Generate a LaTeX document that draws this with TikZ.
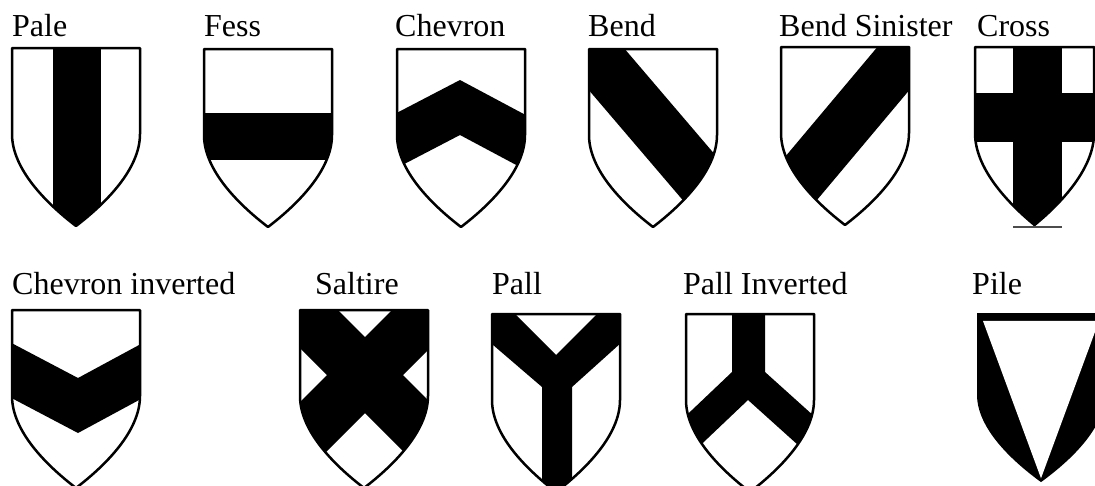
\documentclass[tikz,border=0pt]{standalone}
\usepackage{fontspec}
\setmainfont{Liberation Serif}

% 盾牌轮廓（左上角为原点，y 向下）
\newcommand{\shieldpath}{(0,0) -- (128,0) -- (128,86) .. controls (128,121) and (94,155) .. (64,178) .. controls (34,155) and (0,121) .. (0,86) -- cycle}
% 盾牌：#1 位置，#2 图案
\newcommand{\drawshield}[2]{%
  \begin{scope}[#1]
    \begin{scope}
      \clip \shieldpath;
      #2
    \end{scope}
    \draw[rim] \shieldpath;
  \end{scope}}

\tikzset{
  rim/.style={line width=2.5pt, line join=round},
  namelabel/.style={anchor=base west, inner sep=0pt, font=\fontsize{32}{36}\selectfont}
}

\begin{document}
\begin{tikzpicture}[x=1pt, y=-1pt]
    \useasboundingbox (0,0) rectangle (1095,485);

    % 第一行名称
    \node[namelabel] (pale) at (12,36) {Pale};
    \node[namelabel] (fess) at (204,36) {Fess};
    \node[namelabel] (chevron) at (395,36) {Chevron};
    \node[namelabel] (bend) at (588,36) {Bend};
    \node[namelabel] (sinister) at (779,36) {Bend Sinister};
    \node[namelabel] (cross) at (977,36) {Cross};

    % 第二行名称
    \node[namelabel] (invchevron) at (12,294) {Chevron inverted};
    \node[namelabel] (saltire) at (315,294) {Saltire};
    \node[namelabel] (pall) at (492,294) {Pall};
    \node[namelabel] (invpall) at (683,294) {Pall Inverted};
    \node[namelabel] (pile) at (972,294) {Pile};

    % 纵条
    \drawshield{shift={(12,48)}}{\fill (41,-5) rectangle (89,200);}
    % 横条
    \drawshield{shift={(204,49)}}{\fill (-5,64) rectangle (133,111);}
    % 人字
    \drawshield{shift={(397,49)}}{\fill (-10,69) -- (63,31) -- (138,71) -- (138,126) -- (63,86) -- (-10,124) -- cycle;}
    % 右斜带
    \drawshield{shift={(589,49)}}{\fill (-24,-70) -- (186,176) -- (150,217) -- (-60,-29) -- cycle;}
    % 左斜带
    \drawshield{shift={(781,47)}}{\fill (156,-71) -- (-54,179) -- (-22,222) -- (188,-28) -- cycle;}
    % 十字
    \drawshield{shift={(975,47)}, xscale=0.93}{%
      \fill (41,-5) rectangle (94,200);
      \fill (-5,46) rectangle (140,95);}
    \draw[gray!60!black, line width=1.5pt] (1013,227) -- (1062,227);

    % 倒人字
    \drawshield{shift={(12,310)}}{\fill (-10,28) -- (66,68) -- (140,28) -- (140,83) -- (66,123) -- (-10,83) -- cycle;}
    % 交叉
    \drawshield{shift={(300,310)}}{%
      \fill (-12,-50) -- (238,200) -- (200,238) -- (-50,-12) -- cycle;
      \fill (142,-50) -- (-108,200) -- (-72,240) -- (178,-10) -- cycle;}
    % Y 形
    \drawshield{shift={(492,314)}}{\fill (-27,-50) -- (64,41) -- (155,-50) -- (170,-8) -- (80,73) -- (80,200) -- (50,200) -- (50,73) -- (-42,-6) -- cycle;}
    % 倒 Y 形
    \drawshield{shift={(686,314)}}{\fill (46,-10) -- (79,-10) -- (79,58) -- (179,148) -- (162,176) -- (62,86) -- (-38,181) -- (-54,153) -- (46,58) -- cycle;}
    % 楔形
    \begin{scope}[shift={(977,313)}, yscale=0.95]
        \fill \shieldpath;
        \fill[white] (6,8.4) -- (122,8.4) -- (64,174) -- cycle;
    \end{scope}
\end{tikzpicture}
\end{document}
